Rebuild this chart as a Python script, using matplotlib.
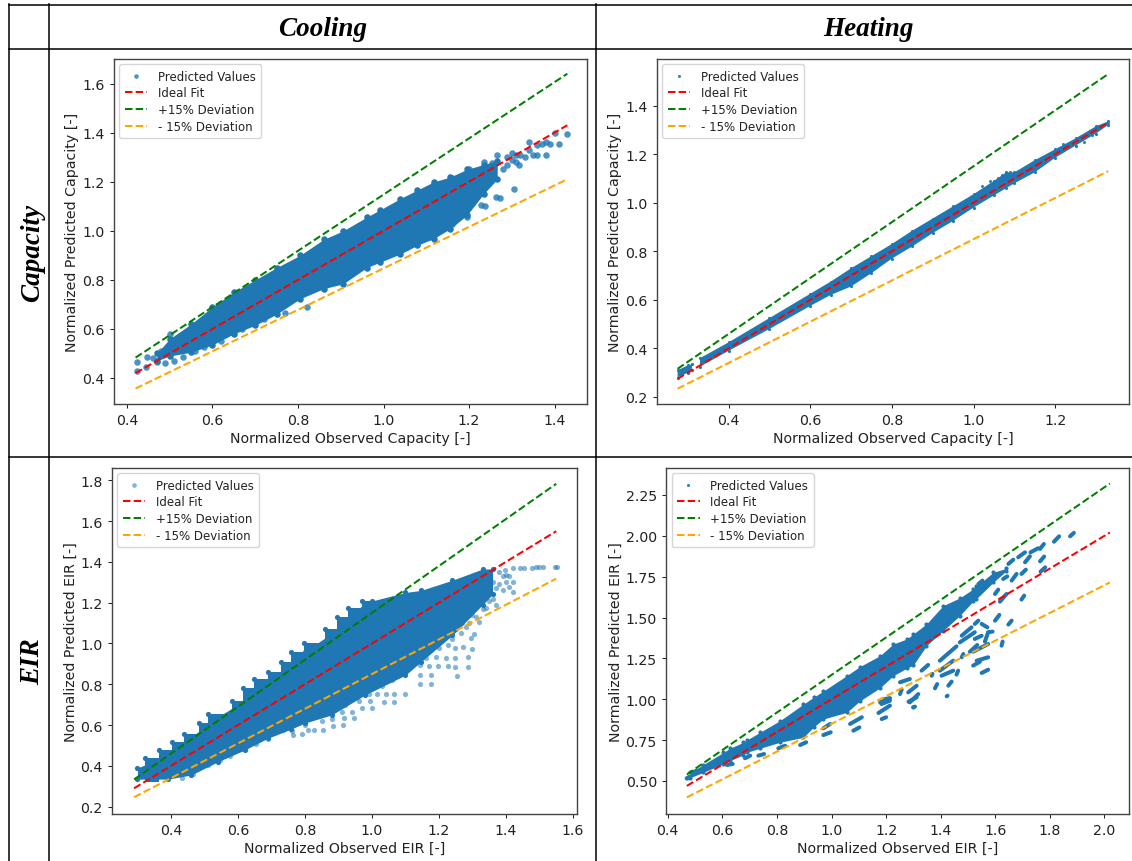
"""Predicted vs observed capacity and EIR, cooling and heating, laid out as a table."""
import matplotlib

matplotlib.use("Agg")
import matplotlib.pyplot as plt
from matplotlib.lines import Line2D

BLUE = "#1f77b4"
WIDTH, HEIGHT = 1132, 862

# dense part of each cloud is kept as a band: observed x, lowest and highest prediction
cap_cool_x = [0.47, 0.50, 0.55, 0.60, 0.65, 0.70, 0.75, 0.805, 0.86, 0.906, 0.961, 0.992,
              1.039, 1.078, 1.117, 1.156, 1.195, 1.234, 1.266]
cap_cool_low = [0.47, 0.49, 0.505, 0.535, 0.58, 0.615, 0.66, 0.723, 0.764, 0.784, 0.85, 0.872,
                0.905, 0.94, 0.968, 1.008, 1.063, 1.15, 1.21]
cap_cool_high = [0.50, 0.56, 0.62, 0.69, 0.75, 0.80, 0.85, 0.90, 0.965, 1.00, 1.056, 1.085,
                 1.131, 1.165, 1.199, 1.219, 1.25, 1.27, 1.285]
cap_cool_dots_x = [0.423, 0.423, 0.445, 0.447, 0.47, 0.49, 0.46, 0.48, 0.51, 0.50, 0.53,
                   0.56, 0.62, 0.58, 0.67, 0.72, 0.77, 0.82, 1.117, 1.16, 1.199, 1.234,
                   1.254, 1.266, 1.301, 1.316, 1.305, 1.262, 1.273, 1.227, 1.238, 1.188,
                   1.195, 1.145, 1.16, 1.152, 1.117, 1.106, 1.078, 1.016, 0.965, 1.039,
                   1.055, 1.31, 1.32, 1.33, 1.34, 1.35, 1.36, 1.37, 1.38, 1.39, 1.40,
                   1.41, 1.43, 1.38, 1.36, 1.34, 1.29, 1.30, 1.31, 1.28, 1.25, 1.23, 1.29]
cap_cool_dots_y = [0.465, 0.43, 0.445, 0.485, 0.465, 0.46, 0.48, 0.51, 0.47, 0.58, 0.485,
                   0.51, 0.55, 0.525, 0.60, 0.64, 0.665, 0.69, 1.192, 1.213, 1.253, 1.281,
                   1.278, 1.308, 1.315, 1.267, 1.172, 1.138, 1.134, 1.104, 1.101, 1.07,
                   1.056, 1.036, 1.029, 1.015, 0.981, 0.974, 0.947, 0.92, 0.879, 0.934,
                   0.934, 1.31, 1.31, 1.30, 1.36, 1.31, 1.35, 1.355, 1.36, 1.355, 1.40,
                   1.355, 1.395, 1.31, 1.31, 1.33, 1.27, 1.29, 1.28, 1.25, 1.22, 1.23, 1.30]
cap_cool_ideal = [0.42, 1.43]
cap_cool_plus = [0.483, 1.64]
cap_cool_minus = [0.357, 1.21]

cap_heat_x = [0.275, 0.30, 0.31, 0.32, 0.33, 0.40, 0.50, 0.60, 0.65, 0.70, 0.75, 0.80,
              0.85, 0.90, 0.95, 1.00, 1.05, 1.08, 1.10, 1.15, 1.20, 1.25, 1.30, 1.33]
cap_heat_low = [0.28, 0.30, 0.31, float("nan"), 0.325, 0.39, 0.48, 0.575, 0.62, 0.655, 0.71, 0.77,
                0.82, 0.875, 0.925, 0.98, 1.03, 1.06, 1.08, 1.125, 1.185, 1.235, 1.285, 1.32]
cap_heat_high = [0.31, 0.33, 0.335, float("nan"), 0.36, 0.425, 0.525, 0.625, 0.675, 0.73, 0.78, 0.83,
                 0.885, 0.935, 0.985, 1.035, 1.09, 1.125, 1.125, 1.175, 1.22, 1.265, 1.315, 1.335]
cap_heat_dots_x = [1.02, 1.04, 1.06, 1.07, 1.08, 1.09, 1.22, 1.24, 1.26, 1.27, 1.28, 1.29, 1.33]
cap_heat_dots_y = [1.07, 1.09, 1.10, 1.115, 1.12, 1.125, 1.24, 1.245, 1.26, 1.25, 1.285, 1.28, 1.33]
cap_heat_ideal = [0.275, 1.33]
cap_heat_plus = [0.316, 1.53]
cap_heat_minus = [0.234, 1.13]

eir_cool_x = [0.30, 0.39, 0.46, 0.54, 0.62, 0.689, 0.758, 0.80, 0.88, 0.98, 1.10, 1.146,
              1.24, 1.33, 1.36]
eir_cool_low = [0.335, 0.335, 0.355, 0.42, 0.478, 0.535, 0.58, 0.61, 0.65, 0.748, 0.845, 0.91,
                1.04, 1.19, 1.24]
eir_cool_high = [0.39, 0.45, 0.54, 0.64, 0.72, 0.81, 0.90, 0.96, 1.05, 1.20, 1.25, 1.26,
                 1.31, 1.365, 1.365]
# upper edge of this cloud is made of short flat runs
eir_cool_stair_x = [0.323, 0.363, 0.403, 0.438, 0.483, 0.512, 0.581, 0.615, 0.649, 0.689,
                    0.729, 0.758, 0.798, 0.861, 0.895, 0.929, 0.969, 1.00]
eir_cool_stair_y = [0.437, 0.478, 0.515, 0.555, 0.609, 0.653, 0.718, 0.78, 0.826, 0.862,
                    0.911, 0.96, 1.00, 1.069, 1.128, 1.172, 1.21, 1.21]
eir_cool_dots_x = [1.143, 1.177, 1.143, 1.177, 1.255, 1.249, 1.286, 1.226, 1.198, 1.169, 1.143,
                   1.249, 1.286, 1.22, 1.192, 1.298, 1.249, 1.272, 1.306, 1.295, 1.266, 1.226,
                   1.289, 1.318, 1.34, 1.369, 1.42, 1.409, 1.10, 1.066, 1.035, 1.066, 1.043,
                   1.015, 0.992, 0.994, 1.001, 0.969, 0.941, 0.912, 0.946, 0.918, 0.883, 0.914,
                   0.855, 0.826, 0.809, 0.792, 0.758, 0.735, 0.763, 0.689, 0.655, 0.609, 0.575,
                   0.546, 0.512, 0.466, 0.432, 1.398, 1.421, 1.443, 1.455, 1.478, 1.489, 1.50,
                   1.512, 1.546, 1.552, 1.40, 1.42, 1.30, 1.32, 1.35, 1.38, 1.36, 1.30, 1.27,
                   1.25, 1.24, 1.20, 1.16, 1.12, 1.10, 1.06, 1.03, 0.96, 0.92, 0.88, 0.85,
                   0.80, 0.76, 1.39, 1.40, 1.41, 1.37, 1.39, 1.35, 1.33, 1.31, 1.28, 1.36, 1.38]
eir_cool_dots_y = [0.803, 0.803, 0.845, 0.845, 0.84, 0.883, 0.883, 0.89, 0.891, 0.891, 0.895,
                   0.93, 0.932, 0.93, 0.935, 0.971, 0.976, 0.984, 1.046, 1.025, 1.05, 0.993,
                   1.099, 1.107, 1.172, 1.189, 1.25, 1.279, 0.75, 0.75, 0.712, 0.712, 0.754,
                   0.754, 0.754, 0.718, 0.682, 0.682, 0.666, 0.666, 0.633, 0.633, 0.597, 0.60,
                   0.576, 0.576, 0.576, 0.555, 0.581, 0.576, 0.551, 0.53, 0.506, 0.481, 0.448,
                   0.429, 0.404, 0.359, 0.342, 1.36, 1.368, 1.368, 1.368, 1.368, 1.376, 1.376,
                   1.376, 1.376, 1.376, 1.336, 1.303, 1.20, 1.23, 1.25, 1.29, 1.22, 1.14, 1.10,
                   1.07, 1.02, 0.98, 0.93, 0.90, 0.87, 0.82, 0.79, 0.72, 0.70, 0.63, 0.62,
                   0.60, 0.57, 1.33, 1.30, 1.33, 1.27, 1.26, 1.21, 1.17, 1.13, 1.08, 1.30, 1.35]
eir_cool_ideal = [0.29, 1.55]
eir_cool_plus = [0.3335, 1.7825]
eir_cool_minus = [0.2465, 1.3175]

eir_heat_x = [0.482, 0.53, 0.604, 0.628, 0.677, 0.689, 0.738, 0.811, 0.897, 0.934, 0.97, 1.056,
              1.104, 1.178, 1.226, 1.276, 1.30, 1.348, 1.409, 1.47, 1.519, 1.53, 1.593, 1.641]
eir_heat_low = [0.52, 0.553, 0.605, 0.624, 0.66, 0.675, 0.70, 0.737, 0.767, 0.83, 0.879, 0.92,
                0.99, 1.07, 1.144, 1.19, 1.21, 1.328, 1.42, 1.512, 1.60, 1.614, 1.716, 1.787]
eir_heat_high = [0.553, 0.60, 0.675, 0.70, 0.737, 0.75, 0.798, 0.869, 0.97, 1.012, 1.05, 1.145,
                 1.20, 1.267, 1.338, 1.369, 1.40, 1.461, 1.573, 1.62, 1.675, 1.69, 1.777, 1.801]
eir_heat_dots_x = [0.47, 1.30]
eir_heat_dots_y = [0.52, 0.951]
# the sparse points of this panel overlap into short streaks: start and end of each
streak_x0 = [1.874, 1.815, 1.764, 1.729, 1.709, 1.684, 1.764, 1.648, 1.696, 1.66, 1.766, 1.629,
             1.599, 1.696, 1.617, 1.648, 1.599, 1.538, 1.55, 1.525, 1.562, 1.623, 1.574, 1.47,
             1.525, 1.477, 1.507, 1.519, 1.519, 1.532, 1.55, 1.458, 1.397, 1.397, 1.403, 1.428,
             1.379, 1.422, 1.287, 1.281, 1.251, 1.251, 1.183, 1.196, 1.33, 1.367, 1.477, 1.299,
             0.469, 0.494, 0.616, 0.683, 0.732, 0.805, 0.885, 0.97, 0.97, 1.068, 1.08, 1.184,
             1.172, 1.178, 1.282]
streak_y0 = [1.997, 1.964, 1.92, 1.899, 1.838, 1.869, 1.844, 1.828, 1.767, 1.726, 1.781, 1.736,
             1.644, 1.61, 1.597, 1.457, 1.481, 1.705, 1.461, 1.461, 1.353, 1.328, 1.41, 1.348,
             1.369, 1.389, 1.291, 1.291, 1.206, 1.236, 1.161, 1.151, 1.236, 1.175, 1.144, 1.083,
             1.067, 1.018, 0.981, 1.042, 1.032, 1.104, 0.971, 1.002, 1.175, 1.144, 1.257, 0.951,
             0.516, 0.553, 0.598, 0.639, 0.655, 0.70, 0.72, 0.781, 0.822, 0.849, 0.808, 0.879,
             0.916, 0.981, 0.985]
streak_x1 = [1.888, 1.834, 1.778, 1.757, 1.727, 1.709, 1.779, 1.666, 1.712, 1.678, 1.783, 1.644,
             1.611, 1.706, 1.641, 1.66, 1.615, 1.553, 1.571, 1.538, 1.574, 1.627, 1.59, 1.525,
             1.55, 1.513, 1.534, 1.574, 1.544, 1.574, 1.574, 1.464, 1.458, 1.446, 1.446, 1.44,
             1.387, 1.425, 1.318, 1.312, 1.257, 1.287, 1.214, 1.214, 1.354, 1.37, 1.483, 1.306,
             0.482, 0.504, 0.638, 0.702, 0.753, 0.83, 0.907, 0.997, 0.995, 1.111, 1.102, 1.20,
             1.214, 1.214, 1.312]
streak_y1 = [2.018, 1.997, 1.95, 1.924, 1.875, 1.899, 1.873, 1.854, 1.793, 1.767, 1.807, 1.752,
             1.671, 1.634, 1.644, 1.481, 1.516, 1.726, 1.44, 1.481, 1.41, 1.353, 1.414, 1.41,
             1.389, 1.44, 1.332, 1.338, 1.23, 1.257, 1.181, 1.175, 1.324, 1.236, 1.175, 1.108,
             1.093, 1.022, 1.032, 1.083, 1.059, 1.124, 0.991, 1.006, 1.21, 1.155, 1.277, 0.955,
             0.528, 0.563, 0.604, 0.655, 0.665, 0.716, 0.737, 0.798, 0.849, 0.89, 0.828, 0.89,
             0.961, 1.006, 1.012]
eir_heat_ideal = [0.47, 2.02]
eir_heat_plus = [0.54, 2.32]
eir_heat_minus = [0.40, 1.715]

col_titles = ["Cooling", "Heating"]
row_titles = ["Capacity", "EIR"]


def make_axes(fig, left, top, right, bottom):
    """Axes from pixel edges of the table cell."""
    return fig.add_axes([left / WIDTH, 1 - bottom / HEIGHT,
                         (right - left) / WIDTH, (bottom - top) / HEIGHT])


def draw_panel(ax, band, dots, lines, s, xlim, ylim, xticks, yticks, xlabel, ylabel,
               dot_alpha=0.6, marker_scale=0.8):
    band_x, band_low, band_high = band
    dots_x, dots_y = dots
    ideal_x, ideal, plus, minus = lines
    ax.fill_between(band_x, band_low, band_high, color=BLUE, lw=0, zorder=2)
    # edges of the band get dots too so it does not look like a polygon
    ax.scatter(band_x, band_low, s=s, color=BLUE, lw=0, zorder=2)
    ax.scatter(band_x, band_high, s=s, color=BLUE, lw=0, zorder=2)
    ax.scatter(dots_x, dots_y, s=s, color=BLUE, alpha=dot_alpha, lw=0, zorder=2,
               label="Predicted Values")
    ax.plot(ideal_x, ideal, "--", color="red", lw=1.45, zorder=3, label="Ideal Fit")
    ax.plot(ideal_x, plus, "--", color="green", lw=1.45, zorder=3, label="+15% Deviation")
    ax.plot(ideal_x, minus, "--", color="orange", lw=1.45, zorder=3, label="- 15% Deviation")
    ax.set_xlim(xlim)
    ax.set_ylim(ylim)
    ax.set_xticks(xticks)
    ax.set_yticks(yticks)
    ax.tick_params(labelsize=10.2, colors="#222222", length=3.2, width=0.75, pad=3.6)
    ax.set_xlabel(xlabel, fontsize=10.2, color="#222222", labelpad=2.5)
    ax.set_ylabel(ylabel, fontsize=10.2, color="#222222", labelpad=2)
    for spine in ax.spines.values():
        spine.set_linewidth(1.0)
        spine.set_color("#444444")
    ax.legend(loc="upper left", fontsize=8.45, labelspacing=0.33, borderaxespad=0.45,
              handlelength=1.95, handletextpad=0.9, borderpad=0.45, framealpha=0.8,
              labelcolor="#222222", markerscale=marker_scale)


fig = plt.figure(figsize=(WIDTH / 100, HEIGHT / 100), dpi=100)

ax = make_axes(fig, 114, 60, 587, 405)
draw_panel(ax, (cap_cool_x, cap_cool_low, cap_cool_high), (cap_cool_dots_x, cap_cool_dots_y),
           (cap_cool_ideal, cap_cool_ideal, cap_cool_plus, cap_cool_minus), 22,
           (0.3696, 1.476), (0.294, 1.70), [0.4, 0.6, 0.8, 1.0, 1.2, 1.4],
           [0.4, 0.6, 0.8, 1.0, 1.2, 1.4, 1.6],
           "Normalized Observed Capacity [-]", "Normalized Predicted Capacity [-]",
           dot_alpha=0.8, marker_scale=0.7)

ax = make_axes(fig, 657, 60, 1129, 405)
draw_panel(ax, (cap_heat_x, cap_heat_low, cap_heat_high), (cap_heat_dots_x, cap_heat_dots_y),
           (cap_heat_ideal, cap_heat_ideal, cap_heat_plus, cap_heat_minus), 5,
           (0.2245, 1.381), (0.171, 1.592), [0.4, 0.6, 0.8, 1.0, 1.2],
           [0.2, 0.4, 0.6, 0.8, 1.0, 1.2, 1.4],
           "Normalized Observed Capacity [-]", "Normalized Predicted Capacity [-]",
           dot_alpha=0.9, marker_scale=1.0)

ax = make_axes(fig, 112, 469, 577, 815)
draw_panel(ax, (eir_cool_x, eir_cool_low, eir_cool_high), (eir_cool_dots_x, eir_cool_dots_y),
           (eir_cool_ideal, eir_cool_ideal, eir_cool_plus, eir_cool_minus), 14,
           (0.224, 1.612), (0.164, 1.86), [0.4, 0.6, 0.8, 1.0, 1.2, 1.4, 1.6],
           [0.2, 0.4, 0.6, 0.8, 1.0, 1.2, 1.4, 1.6, 1.8],
           "Normalized Observed EIR [-]", "Normalized Predicted EIR [-]",
           dot_alpha=0.55, marker_scale=0.9)
ax.fill_between(eir_cool_stair_x, eir_cool_stair_x, eir_cool_stair_y, step="post",
                color=BLUE, lw=0, zorder=2)
ax.scatter(eir_cool_stair_x, eir_cool_stair_y, s=14, color=BLUE, lw=0, zorder=2)

ax = make_axes(fig, 666.4, 469, 1129, 815)
draw_panel(ax, (eir_heat_x, eir_heat_low, eir_heat_high), (eir_heat_dots_x, eir_heat_dots_y),
           (eir_heat_ideal, eir_heat_ideal, eir_heat_plus, eir_heat_minus), 9,
           (0.395, 2.09), (0.298, 2.415), [0.4, 0.6, 0.8, 1.0, 1.2, 1.4, 1.6, 1.8, 2.0],
           [0.50, 0.75, 1.00, 1.25, 1.50, 1.75, 2.00, 2.25],
           "Normalized Observed EIR [-]", "Normalized Predicted EIR [-]",
           dot_alpha=0.9, marker_scale=0.75)
ax.set_yticklabels(["0.50", "0.75", "1.00", "1.25", "1.50", "1.75", "2.00", "2.25"])
for x0, y0, x1, y1 in zip(streak_x0, streak_y0, streak_x1, streak_y1):
    ax.plot([x0, x1], [y0, y1], color=BLUE, lw=2.9, solid_capstyle="round", zorder=2)

# table rules around the panels
for x0, y0, x1, y1 in [(9, 5.5, WIDTH, 5.5), (9, 49.5, WIDTH, 49.5), (9, 457.5, WIDTH, 457.5),
                       (9, 5, 9, HEIGHT), (49, 5, 49, HEIGHT), (596, 5, 596, HEIGHT)]:
    fig.add_artist(Line2D([x0 / WIDTH, x1 / WIDTH], [1 - y0 / HEIGHT, 1 - y1 / HEIGHT],
                          color="black", lw=1.1))

title_font = dict(family="Liberation Serif", style="italic", weight="bold", fontsize=19.5,
                  ha="center", va="center")
fig.text(323 / WIDTH, 1 - 30 / HEIGHT, col_titles[0], **title_font)
fig.text(868.5 / WIDTH, 1 - 30 / HEIGHT, col_titles[1], **title_font)
fig.text(33 / WIDTH, 1 - 252.5 / HEIGHT, row_titles[0], rotation=90, **title_font)
fig.text(33 / WIDTH, 1 - 661.5 / HEIGHT, row_titles[1], rotation=90, **title_font)

fig.savefig("out.png", dpi=100)
plt.close(fig)
